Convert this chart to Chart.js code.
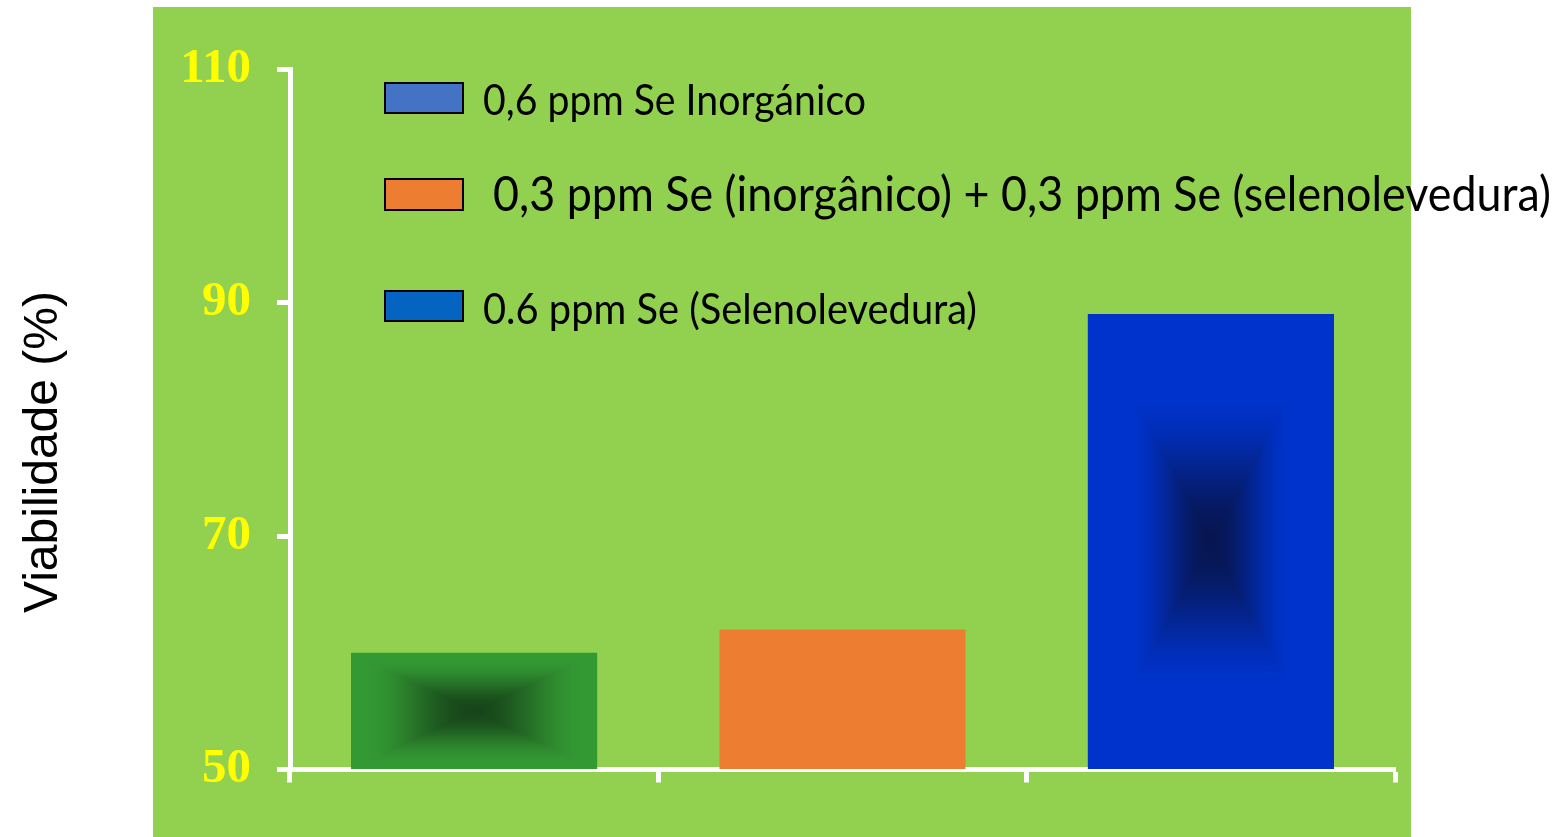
<!DOCTYPE html>
<html>
<head>
<meta charset="utf-8">
<script src="https://cdn.jsdelivr.net/npm/chart.js@4/dist/chart.umd.min.js"></script>
<style>
  html, body { margin: 0; padding: 0; background: #ffffff; overflow: hidden; }
  #wrap { width: 1566px; height: 837px; position: relative; }
</style>
</head>
<body>
<div id="wrap"><canvas id="chart" width="1566" height="837"></canvas></div>
<script>
// Treatments, viability values and axis ticks
const categories = [
  '0,6 ppm Se Inorgánico',
  '0,3 ppm Se (inorgânico) + 0,3 ppm Se (selenolevedura)',
  '0.6 ppm Se (Selenolevedura)'
];
const viability = [60, 62, 89];
const yTicks = [50, 70, 90, 110];
const yTitle = 'Viabilidade (%)';

// Colours
const legendColors = ['#4472C4', '#ED7D31', '#0563C1'];
const barColors = ['#339933', '#ED7D31', '#0033CC'];
const barCoreColors = ['#17451A', null, '#071652'];
const barCoreReach = [0.9, 1, 0.66];

// Page / panel background
const panelBg = {
  id: 'panelBg',
  beforeDraw(chart) {
    const c = chart.ctx;
    c.save();
    c.fillStyle = '#ffffff';
    c.fillRect(0, 0, chart.width, chart.height);
    c.fillStyle = '#92D050';
    c.fillRect(153, 7, 1258, 830);
    c.restore();
  }
};

// Rectangular "from centre" shading painted inside each bar's own rectangle
function hexRgb(h) {
  const n = parseInt(h.slice(1), 16);
  return [(n >> 16) & 255, (n >> 8) & 255, n & 255];
}
const barShade = {
  id: 'barShade',
  afterDatasetsDraw(chart) {
    const meta = chart.getDatasetMeta(0);
    const c = chart.ctx;
    const area = chart.chartArea;
    meta.data.forEach((bar, i) => {
      if (!barCoreColors[i]) return;
      const p = bar.getProps(['x', 'y', 'base', 'width'], true);
      const L = Math.round(p.x - p.width / 2);
      const R = Math.round(p.x + p.width / 2);
      const T = Math.round(Math.max(area.top, Math.min(p.y, p.base)));
      const B = Math.round(Math.min(area.bottom, Math.max(p.y, p.base)));
      const w = R - L, h = B - T;
      if (w <= 0 || h <= 0) return;
      const outer = hexRgb(barColors[i]);
      const inner = hexRgb(barCoreColors[i]);
      const reach = barCoreReach[i];
      const off = document.createElement('canvas');
      off.width = w; off.height = h;
      const oc = off.getContext('2d');
      const img = oc.createImageData(w, h);
      const hw = w / 2, hh = h / 2;
      for (let yy = 0; yy < h; yy++) {
        const dy = Math.abs(yy + 0.5 - hh) / hh;
        for (let xx = 0; xx < w; xx++) {
          const dx = Math.abs(xx + 0.5 - hw) / hw;
          let t = Math.max(dx, dy) / reach;
          if (t > 1) t = 1;
          t = t * t * (3 - 2 * t);
          const k = (yy * w + xx) * 4;
          img.data[k] = inner[0] + (outer[0] - inner[0]) * t;
          img.data[k + 1] = inner[1] + (outer[1] - inner[1]) * t;
          img.data[k + 2] = inner[2] + (outer[2] - inner[2]) * t;
          img.data[k + 3] = 255;
        }
      }
      oc.putImageData(img, 0, 0);
      c.drawImage(off, L, T);
    });
  }
};

// Legend rows and vertical axis title
const legendRows = [
  { box: [384, 82, 80, 32], tx: 483, base: 115, size: 42, width: 383 },
  { box: [384, 178, 80, 33], tx: 493, base: 211, size: 48, width: 1058 },
  { box: [384, 290, 80, 32], tx: 483, base: 324, size: 42, width: 494 }
];
const annotations = {
  id: 'annotations',
  afterDraw(chart) {
    const c = chart.ctx;
    c.save();
    legendRows.forEach((r, i) => {
      const [bx, by, bw, bh] = r.box;
      c.fillStyle = legendColors[i];
      c.fillRect(bx, by, bw, bh);
      c.strokeStyle = '#000000';
      c.lineWidth = 2;
      c.strokeRect(bx + 1, by + 1, bw - 2, bh - 2);
      c.font = r.size + 'px Lato, "Open Sans", sans-serif';
      c.fillStyle = '#000000';
      c.textAlign = 'left';
      c.textBaseline = 'alphabetic';
      const m = c.measureText(categories[i]).width;
      c.save();
      c.translate(r.tx, r.base);
      c.scale(r.width / m, 1);
      c.fillText(categories[i], 0, 0);
      c.restore();
    });
    c.translate(44, 452);
    c.rotate(-Math.PI / 2);
    c.font = '48px "Liberation Sans", Arial, sans-serif';
    c.fillStyle = '#000000';
    c.textAlign = 'center';
    c.textBaseline = 'middle';
    c.fillText(yTitle, 0, 0);
    c.restore();
  }
};

new Chart(document.getElementById('chart'), {
  type: 'bar',
  data: {
    labels: categories,
    datasets: [{
      data: viability,
      base: yTicks[0],
      backgroundColor: barColors,
      borderWidth: 0,
      barPercentage: 0.668,
      categoryPercentage: 1
    }]
  },
  options: {
    responsive: false,
    animation: false,
    devicePixelRatio: 1,
    layout: { padding: { left: 0, right: 171, top: 69, bottom: 0 } },
    plugins: { legend: { display: false }, tooltip: { enabled: false } },
    scales: {
      x: {
        z: 1,
        offset: true,
        grid: { display: true, offset: true, drawOnChartArea: false, drawTicks: true,
                tickLength: 13, tickWidth: 5, tickColor: '#ffffff' },
        border: { display: true, color: '#ffffff', width: 5 },
        ticks: { display: false },
        afterFit(s) { s.height = 837 - 769.5; }
      },
      y: {
        z: 1,
        min: yTicks[0],
        max: yTicks[yTicks.length - 1],
        afterBuildTicks(s) { s.ticks = yTicks.map(v => ({ value: v })); },
        grid: { drawOnChartArea: false, drawTicks: true, tickLength: 13, tickWidth: 5, tickColor: '#ffffff' },
        border: { display: true, color: '#ffffff', width: 5 },
        ticks: {
          color: '#FFFF00',
          padding: 26,
          font: { family: '"Liberation Serif", "Times New Roman", serif', size: 49, weight: 'bold' }
        },
        afterFit(s) { s.width = 290; }
      }
    }
  },
  plugins: [panelBg, barShade, annotations]
});
</script>
</body>
</html>
